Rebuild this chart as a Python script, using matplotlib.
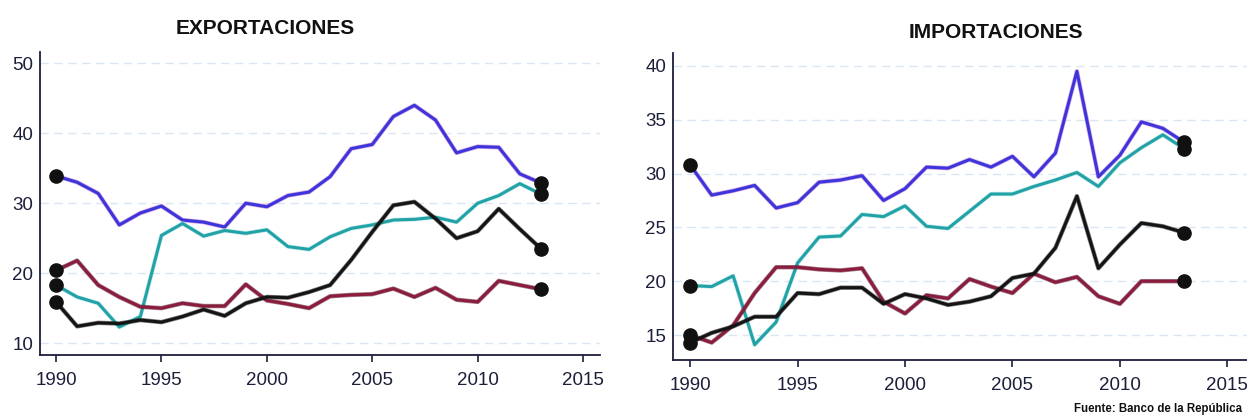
import numpy as np
import matplotlib
matplotlib.use("Agg")
import matplotlib.pyplot as plt
import matplotlib.patheffects as pe

# Years shared by both panels
years = list(range(1990, 2014))

# Exportaciones
exp_blue = [33.9, 33.0, 31.4, 26.9, 28.6, 29.6, 27.6, 27.3, 26.6, 30.0, 29.5, 31.1,
            31.6, 33.8, 37.8, 38.4, 42.4, 44.0, 41.9, 37.2, 38.1, 38.0, 34.2, 32.9]
exp_teal = [18.3, 16.6, 15.7, 12.3, 13.8, 25.4, 27.1, 25.3, 26.1, 25.7, 26.2, 23.8,
            23.4, 25.2, 26.4, 26.9, 27.6, 27.7, 28.0, 27.3, 30.0, 31.1, 32.8, 31.3]
exp_red = [20.4, 21.8, 18.3, 16.6, 15.2, 15.0, 15.7, 15.3, 15.3, 18.4, 16.1, 15.6,
           15.0, 16.7, 16.9, 17.0, 17.8, 16.6, 17.9, 16.2, 15.9, 18.9, 18.3, 17.7]
exp_black = [15.9, 12.4, 12.9, 12.8, 13.3, 13.0, 13.8, 14.8, 13.9, 15.7, 16.6, 16.5,
             17.3, 18.3, 21.9, 25.9, 29.7, 30.2, 27.8, 25.0, 26.0, 29.2, 26.3, 23.5]

# Importaciones
imp_blue = [30.8, 28.0, 28.4, 28.9, 26.8, 27.3, 29.2, 29.4, 29.8, 27.5, 28.6, 30.6,
            30.5, 31.3, 30.6, 31.6, 29.7, 31.9, 39.5, 29.7, 31.7, 34.8, 34.2, 32.9]
imp_teal = [19.6, 19.5, 20.5, 14.1, 16.2, 21.7, 24.1, 24.2, 26.2, 26.0, 27.0, 25.1,
            24.9, 26.5, 28.1, 28.1, 28.8, 29.4, 30.1, 28.8, 31.0, 32.4, 33.6, 32.3]
imp_red = [15.0, 14.3, 15.9, 18.9, 21.3, 21.3, 21.1, 21.0, 21.2, 18.1, 17.0, 18.7,
           18.4, 20.2, 19.5, 18.9, 20.7, 19.9, 20.4, 18.6, 17.9, 20.0, 20.0, 20.0]
imp_black = [14.3, 15.2, 15.8, 16.7, 16.7, 18.9, 18.8, 19.4, 19.4, 17.9, 18.8, 18.4,
             17.8, 18.1, 18.6, 20.3, 20.7, 23.1, 27.9, 21.2, 23.4, 25.4, 25.1, 24.5]

x_ticks = [1990, 1995, 2000, 2005, 2010, 2015]
exp_yticks = [10, 20, 30, 40, 50]
imp_yticks = [15, 20, 25, 30, 35, 40]

NAVY = "#1c1f3a"
styles = [
    ("#3a36dc", "#c060d0"),   # blue with magenta fringe
    ("#22a2a6", "#9adde0"),   # teal
    ("#8a1c3e", "#5a1428"),   # crimson
    ("#141414", "#141414"),   # black
]

FONT = ["Liberation Sans", "DejaVu Sans"]

fig = plt.figure(figsize=(12.47, 4.16), dpi=100)
ax1 = fig.add_axes([0.0321, 0.1466, 0.449, 0.728])
ax2 = fig.add_axes([0.5397, 0.1346, 0.46, 0.738])


def draw_panel(ax, series, yticks, xlim, ylim):
    for vals, (col, edge) in zip(series, styles):
        ax.plot(years, vals, color=col, lw=2.2, solid_joinstyle="round", zorder=3,
                path_effects=[pe.Stroke(linewidth=3.2, foreground=edge, alpha=0.55,
                                        joinstyle="round"), pe.Normal()])
        ax.plot([years[0], years[-1]], [vals[0], vals[-1]], ls="none", marker="o",
                ms=9.5, color="#111111", zorder=4)
    ax.set_xlim(*xlim)
    ax.set_ylim(*ylim)
    ax.set_xticks(x_ticks)
    ax.set_yticks(yticks)
    for y in yticks:
        ax.axhline(y, color="#dae6f3", lw=1.0, ls=(0, (6, 4)), zorder=1)
    for s in ["top", "right"]:
        ax.spines[s].set_visible(False)
    for s in ["left", "bottom"]:
        ax.spines[s].set_color(NAVY)
        ax.spines[s].set_linewidth(1.3)
    ax.tick_params(axis="x", length=5, width=1.2, color=NAVY, pad=7)
    ax.tick_params(axis="y", length=0, pad=5)
    for lab in ax.get_xticklabels() + ax.get_yticklabels():
        lab.set_family(FONT)
        lab.set_fontsize(13.5)
        lab.set_color(NAVY)


draw_panel(ax1, [exp_blue, exp_teal, exp_red, exp_black], exp_yticks,
           (1989.24, 2015.8), (8.3, 51.6))
draw_panel(ax2, [imp_blue, imp_teal, imp_red, imp_black], imp_yticks,
           (1989.2, 2015.9), (12.68, 41.2))

fig.text(265 / 1247, 1 - 28 / 416, "EXPORTACIONES", ha="center", va="center",
         fontsize=15, fontweight="bold", family=FONT, color="#111111")
fig.text(996 / 1247, 1 - 33 / 416, "IMPORTACIONES", ha="center", va="center",
         fontsize=15, fontweight="bold", family=FONT, color="#111111")
fig.text(1242 / 1247, 1 - 409 / 416, "Fuente: Banco de la República", ha="right", va="center",
         fontsize=8.3, fontweight="bold", family=FONT, color="#111111")

fig.savefig("out.png", dpi=100, facecolor="white")
